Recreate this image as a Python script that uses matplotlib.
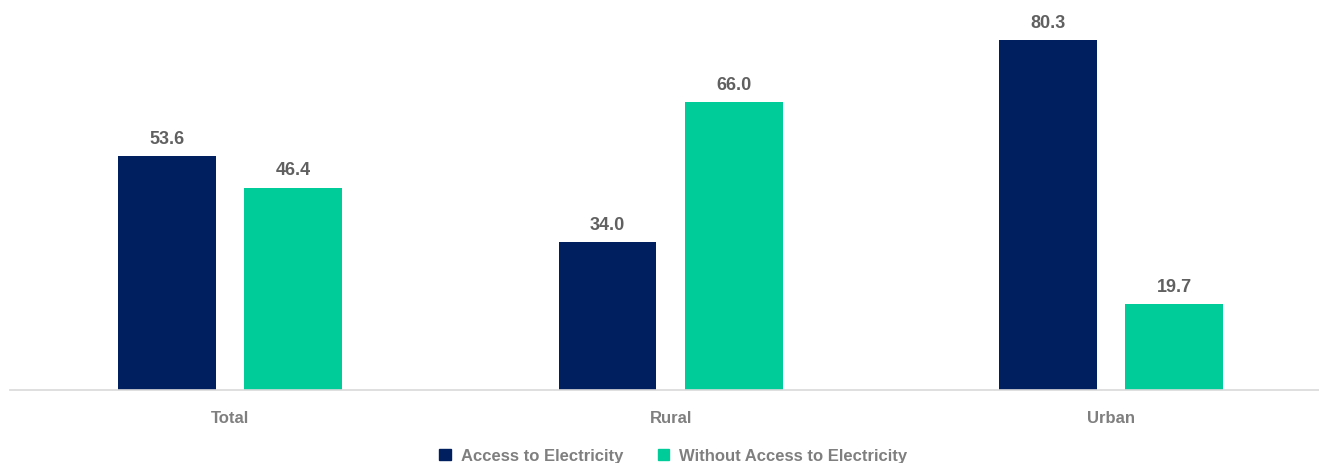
import numpy as np
import matplotlib.pyplot as plt
from matplotlib.patches import Patch

# data
categories = ['Total', 'Rural', 'Urban']
access = [53.6, 34.0, 80.3]
without_access = [46.4, 66.0, 19.7]
series_names = ['Access to Electricity', 'Without Access to Electricity']

navy = '#001F5F'
green = '#00CC99'
label_gray = '#7F7F7F'
value_gray = '#606060'

plt.rcParams['font.family'] = ['Liberation Sans', 'DejaVu Sans']

fig = plt.figure(figsize=(13.19, 4.63), dpi=100)
ax = fig.add_axes([9.6 / 1319, 73 / 463, 1322 / 1319, 390 / 463])

x = np.arange(len(categories))
w = 0.222
off = 0.143

b1 = ax.bar(x - off, access, w, color=navy, label=series_names[0])
b2 = ax.bar(x + off, without_access, w, color=green, label=series_names[1])

# value labels above bars
for bars in (b1, b2):
    for b in bars:
        h = b.get_height()
        ax.annotate(f'{h:.1f}', (b.get_x() + b.get_width() / 2, h),
                    xytext=(0, 6), textcoords='offset points',
                    ha='center', va='bottom', fontsize=13, fontweight='bold',
                    color=value_gray)

ax.set_xlim(-0.5, 2.5)
ax.set_ylim(0, 89.5)
ax.set_yticks([])
ax.set_xticks(x)
ax.set_xticklabels(categories, fontsize=12, fontweight='bold', color=label_gray)
ax.tick_params(axis='x', length=0, pad=15)
for s in ['top', 'right', 'left']:
    ax.spines[s].set_visible(False)
ax.spines['bottom'].set_color('#D9D9D9')
ax.spines['bottom'].set_linewidth(1.2)

handles = [Patch(color=navy), Patch(color=green)]
leg = fig.legend(handles, series_names, loc='center', bbox_to_anchor=(673.5 / 1319, 7 / 463),
                 ncol=2, frameon=False, handlelength=0.68, handleheight=0.68,
                 handletextpad=0.6, columnspacing=2.1,
                 prop={'size': 12, 'weight': 'bold'})
for t in leg.get_texts():
    t.set_color(label_gray)

fig.savefig('out.png', dpi=100)
